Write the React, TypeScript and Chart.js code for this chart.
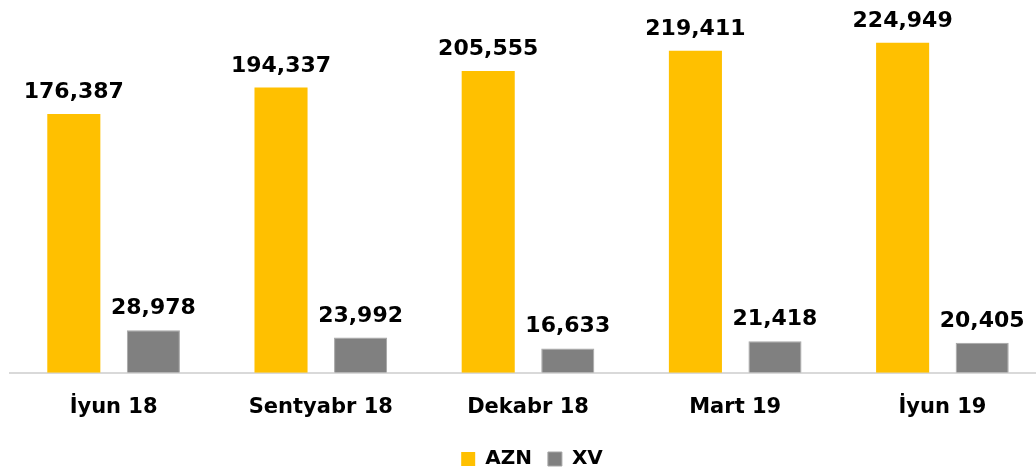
import React, { useEffect, useRef } from "react";
import { Chart, registerables } from "chart.js";

Chart.register(...registerables);

const categories = ["İyun 18", "Sentyabr 18", "Dekabr 18", "Mart 19", "İyun 19"];
const aznValues = [176387, 194337, 205555, 219411, 224949];
const xvValues = [28978, 23992, 16633, 21418, 20405];
const seriesNames = ["AZN", "XV"];
const yMax = 254000;

const FONT = "'DejaVu Sans', Verdana, sans-serif";

const valueLabels = {
  id: "valueLabels",
  afterLayout(chart: any) {
    if (chart.legend) {
      chart.legend.left += 4;
      chart.legend.right += 4;
    }
  },
  afterDatasetsDraw(chart: any) {
    const ctx = chart.ctx;
    ctx.save();
    ctx.font = `bold 22px ${FONT}`;
    ctx.fillStyle = "#000000";
    ctx.textAlign = "center";
    ctx.textBaseline = "alphabetic";
    chart.data.datasets.forEach((ds: any, i: number) => {
      const meta = chart.getDatasetMeta(i);
      meta.data.forEach((el: any, j: number) => {
        const v = ds.data[j] as number;
        ctx.fillText(v.toLocaleString("en-US"), el.x, el.y - 16);
      });
    });
    ctx.restore();
  },
};

export default function App() {
  const ref = useRef<HTMLCanvasElement | null>(null);

  useEffect(() => {
    document.documentElement.style.overflow = "hidden";
    document.body.style.overflow = "hidden";
    document.body.style.margin = "0";
    if (!ref.current) return;
    const chart = new Chart(ref.current, {
      type: "bar",
      data: {
        labels: categories,
        datasets: [
          {
            label: seriesNames[0],
            data: aznValues,
            backgroundColor: "#FFC000",
            borderWidth: 0,
            categoryPercentage: 0.768,
            barPercentage: 0.667,
          },
          {
            label: seriesNames[1],
            data: xvValues,
            backgroundColor: "#808080",
            borderColor: "#A6A6A6",
            borderWidth: 1,
            categoryPercentage: 0.768,
            barPercentage: 0.667,
          },
        ],
      },
      options: {
        responsive: false,
        animation: false,
        devicePixelRatio: 1,
        layout: { padding: { left: 10, right: 18, top: 0, bottom: 4 } },
        plugins: {
          legend: {
            position: "bottom",
            labels: {
              boxWidth: 14,
              boxHeight: 14,
              padding: 16,
              color: "#000000",
              font: { family: FONT, size: 20, weight: "bold" },
            },
          },
          tooltip: { enabled: false },
        },
        scales: {
          x: {
            grid: { display: false, drawTicks: false },
            border: { display: true, color: "#D9D9D9", width: 2 },
            ticks: {
              color: "#000000",
              padding: 22,
              font: { family: FONT, size: 21, weight: "bold" },
            },
            afterFit(scale: any) {
              scale.height -= 9;
            },
          },
          y: {
            display: false,
            min: 0,
            max: yMax,
          },
        },
      },
      plugins: [valueLabels],
    });
    return () => chart.destroy();
  }, []);

  return (
    <div style={{ position: "absolute", left: 0, top: 0, width: 1064, height: 483 }}>
      <canvas ref={ref} width={1064} height={483} />
    </div>
  );
}
